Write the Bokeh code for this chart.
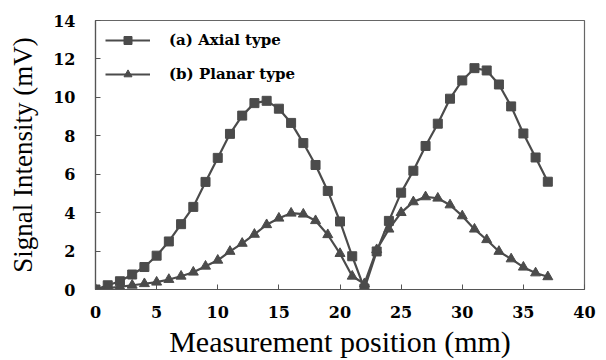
from bokeh.plotting import figure
from bokeh.models import Range1d, FixedTicker
from bokeh.embed import file_html
from bokeh.resources import INLINE

positions = list(range(0, 38))
axial = [0.0, 0.22, 0.43, 0.78, 1.17, 1.76, 2.5, 3.4, 4.3, 5.6, 6.85, 8.1, 9.05, 9.7, 9.82,
         9.41, 8.67, 7.62, 6.48, 5.13, 3.54, 1.73, 0.05, 1.98, 3.57, 5.04, 6.18, 7.47, 8.63,
         9.93, 10.88, 11.52, 11.4, 10.67, 9.53, 8.12, 6.87, 5.61]
planar = [0.0, 0.07, 0.14, 0.22, 0.3, 0.38, 0.52, 0.69, 0.9, 1.21, 1.52, 1.98, 2.4, 2.87,
          3.37, 3.71, 3.97, 3.92, 3.58, 2.85, 1.87, 0.69, 0.3, 2.07, 3.14, 4.0, 4.56, 4.82,
          4.75, 4.4, 3.83, 3.14, 2.59, 1.98, 1.59, 1.16, 0.86, 0.66]
x_ticks = [0, 5, 10, 15, 20, 25, 30, 35, 40]
y_ticks = [0, 2, 4, 6, 8, 10, 12, 14]
series_names = ["(a) Axial type", "(b) Planar type"]

COL = "#4b4b4b"
SERIF = "Liberation Serif"
BOLD_SERIF = "DejaVu Serif"

p = figure(width=606, height=360, output_backend="svg", toolbar_location=None,
           x_range=Range1d(0, 40), y_range=Range1d(0, 14))
p.min_border_left = 95
p.min_border_right = 22
p.min_border_top = 20
p.min_border_bottom = 70
p.background_fill_color = "white"
p.border_fill_color = "white"
p.grid.visible = False
p.outline_line_color = "#666666"
p.outline_line_width = 1.2

p.line(positions, axial, line_color=COL, line_width=2.2, legend_label=series_names[0])
p.scatter(positions, axial, marker="square", size=9, fill_color=COL, line_color=COL,
          legend_label=series_names[0])
p.line(positions, planar, line_color=COL, line_width=2.2, legend_label=series_names[1])
p.scatter(positions, planar, marker="triangle", size=10, fill_color=COL, line_color=COL,
          legend_label=series_names[1])

for ax in (p.xaxis[0], p.yaxis[0]):
    ax.axis_line_color = "#555555"
    ax.axis_line_width = 1.2
    ax.major_tick_in = 5
    ax.major_tick_out = 0
    ax.major_tick_line_color = "#555555"
    ax.minor_tick_line_color = None
    ax.major_label_text_font = BOLD_SERIF
    ax.major_label_text_font_style = "bold"
    ax.major_label_text_font_size = "16px"
    ax.major_label_text_color = "black"
    ax.axis_label_text_font = SERIF
    ax.axis_label_text_font_style = "normal"
    ax.axis_label_text_color = "black"

p.xaxis.axis_label_text_font_size = "30px"
p.yaxis.axis_label_text_font_size = "27px"
p.xaxis.ticker = FixedTicker(ticks=x_ticks)
p.yaxis.ticker = FixedTicker(ticks=y_ticks)
p.xaxis.axis_label = "Measurement position (mm)"
p.yaxis.axis_label = "Signal Intensity (mV)"
p.xaxis.major_label_standoff = 16
p.yaxis.major_label_standoff = 20
p.xaxis.axis_label_standoff = 4
p.yaxis.axis_label_standoff = 12

lg = p.legend[0]
lg.location = "top_left"
lg.margin = 10
lg.padding = 8
lg.glyph_width = 45
lg.glyph_height = 20
lg.spacing = 14
lg.label_standoff = 19
lg.label_text_font = BOLD_SERIF
lg.label_text_font_style = "bold"
lg.label_text_font_size = "15px"
lg.label_text_color = "black"
lg.background_fill_alpha = 0
lg.border_line_color = None

open("out.html", "w").write(file_html(p, INLINE))
